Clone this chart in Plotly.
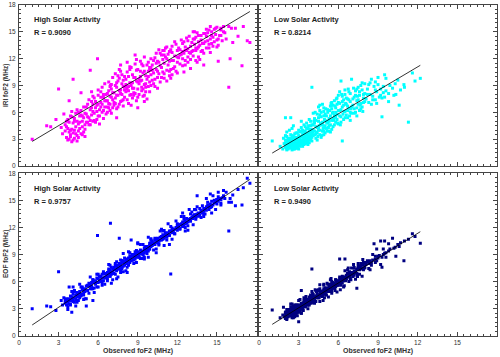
import plotly.graph_objects as go

# ---------------- data ----------------
# High solar activity: observed foF2 and the two model estimates (MHz)
x_high = [
    1.0, 2.1, 2.4, 2.8, 3.0, 3.2, 3.3, 3.4,
    3.5, 3.5, 3.6, 3.6, 3.7, 3.7, 3.8, 3.8, 3.9, 3.9, 4.0, 4.0, 4.0, 4.1, 4.1, 4.2, 4.2, 4.3, 4.3, 4.4, 4.4, 4.5, 4.5, 4.6, 4.6, 4.7, 4.7, 4.8, 4.8, 4.9, 4.9, 5.0, 5.0, 5.0,
    5.1, 5.2, 5.2, 5.3, 5.4, 5.4, 5.5, 5.5, 5.6, 5.7, 5.7, 5.8, 5.8, 5.9, 6.0, 6.0, 6.1, 6.1, 6.2, 6.2, 6.3, 6.3, 6.4, 6.4, 6.5, 6.5, 5.1, 5.95,
    6.6, 6.6, 6.7, 6.7, 6.8, 6.8, 6.9, 6.9, 7.0, 7.0, 7.1, 7.1, 7.2, 7.2, 7.3, 7.3, 7.4, 7.4, 7.5, 7.5, 7.6, 7.6, 7.7, 7.7, 7.8, 7.8, 7.9, 7.9, 8.0, 8.0, 8.0, 6.93, 7.4, 7.7,
    8.1, 8.1, 8.2, 8.2, 8.3, 8.3, 8.4, 8.4, 8.5, 8.5, 8.6, 8.6, 8.7, 8.7, 8.8, 8.8, 8.9, 8.9, 9.0, 9.0, 9.1, 9.1, 9.2, 9.2, 9.3, 9.3, 9.4, 9.4, 9.5, 9.5, 9.6, 9.6, 9.7, 9.7, 9.8, 9.8, 9.9, 9.9, 10.0, 10.0, 8.5, 9.0, 9.5, 8.2,
    10.1, 10.1, 10.2, 10.3, 10.3, 10.4, 10.5, 10.5, 10.6, 10.7, 10.7, 10.8, 10.9, 10.9, 11.0, 11.0, 11.1, 11.2, 11.2, 11.3, 11.4, 11.4, 11.5, 11.6, 11.6, 11.7, 11.8, 11.8, 11.9, 12.0, 12.0, 11.5, 10.5, 11.0,
    12.1, 12.2, 12.2, 12.3, 12.4, 12.4, 12.5, 12.6, 12.6, 12.7, 12.8, 12.8, 12.9, 13.0, 13.0, 13.1, 13.2, 13.2, 13.3, 13.4, 13.4, 13.5, 13.6, 13.6, 13.7, 13.8, 13.8, 13.9, 14.0, 14.0, 12.5, 13.0, 13.5, 12.0, 14.0, 13.3,
    14.1, 14.2, 14.2, 14.3, 14.4, 14.4, 14.5, 14.6, 14.6, 14.7, 14.8, 14.8, 14.9, 15.0, 15.0, 15.1, 15.2, 15.3, 15.4, 15.5, 15.6, 14.5, 15.1, 15.3,
    15.7, 15.9, 15.9, 16.1, 16.2, 16.4, 16.6, 16.9, 17.0, 17.3, 17.5, 16.0,
    4.1, 5.4, 4.7, 5.6, 7.6, 3.8,
    3.6, 3.7, 3.8, 3.9, 4.0, 4.1, 4.2, 4.3, 4.4, 4.5, 4.6, 4.7, 4.8, 4.9, 5.0, 3.9, 4.2, 4.5, 4.8, 4.4,
    5.1, 5.2, 5.3, 5.4, 5.5, 5.6, 5.7, 5.8, 5.9, 6.0, 6.1, 6.2, 6.3, 6.4, 6.5, 5.3, 5.6, 5.9, 6.2, 6.4, 5.5, 6.0,
    6.6, 6.7, 6.8, 6.9, 7.0, 7.1, 7.2, 7.3, 7.4, 7.5, 7.6, 7.7, 7.8, 7.9, 8.0, 6.7, 6.9, 7.1, 7.3, 7.5, 7.7, 7.9, 7.0, 7.4, 7.8, 6.8,
    8.1, 8.2, 8.3, 8.4, 8.5, 8.6, 8.7, 8.8, 8.9, 9.0, 9.1, 9.2, 9.3, 9.4, 9.5, 9.6, 9.7, 9.8, 9.9, 10.0, 8.3, 8.6, 8.9, 9.2, 9.5, 9.8, 8.4, 8.7, 9.0, 9.3, 9.6, 9.9, 8.2, 8.8, 9.4, 10.0,
    10.1, 10.2, 10.3, 10.4, 10.5, 10.6, 10.7, 10.8, 10.9, 11.0, 11.1, 11.2, 11.3, 11.4, 11.5, 11.6, 11.7, 11.8, 11.9, 12.0, 10.4, 10.8, 11.2, 11.6, 10.2, 10.6, 11.0, 11.4,
    12.1, 12.2, 12.3, 12.4, 12.5, 12.6, 12.7, 12.8, 12.9, 13.0, 13.1, 13.2, 13.3, 13.4, 13.5, 13.6, 13.7, 13.8, 13.9, 14.0, 12.4, 12.8, 13.2, 13.6, 12.6, 13.4,
    14.1, 14.3, 14.5, 14.7, 14.9, 15.1, 15.3, 15.5, 14.2, 14.6, 15.0, 14.4,
]
iri_high = [
    3.0, 4.5, 4.4, 5.2, 8.6, 4.3, 3.6, 5.8,
    3.9, 4.6, 3.2, 5.0, 4.2, 2.9, 3.8, 4.9, 3.5, 5.6, 4.1, 2.7, 6.1, 3.7, 4.8, 5.3, 3.1, 4.4, 5.9, 3.4, 5.0, 4.7, 3.9, 5.6, 4.2, 3.6, 6.2, 5.0, 4.4, 5.4, 3.8, 4.6, 5.9, 3.3,
    5.8, 4.9, 6.9, 5.4, 6.3, 4.6, 5.7, 7.2, 6.1, 5.1, 7.6, 6.5, 4.9, 6.8, 5.6, 7.9, 6.3, 4.7, 7.1, 8.3, 6.0, 6.9, 5.3, 7.7, 6.6, 9.2, 4.9, 12.0,
    7.3, 5.8, 8.1, 6.6, 7.0, 9.4, 6.2, 7.8, 8.6, 5.9, 7.4, 9.9, 6.8, 8.2, 7.6, 10.3, 6.4, 8.8, 7.9, 9.5, 6.9, 8.4, 7.2, 10.6, 8.0, 9.2, 6.7, 8.9, 7.7, 10.0, 8.5, 9.0, 5.4, 11.3,
    8.3, 9.7, 7.4, 10.5, 8.9, 7.0, 9.3, 11.1, 8.0, 9.0, 10.2, 7.6, 8.7, 9.9, 8.1, 11.4, 9.5, 7.3, 8.6, 10.8, 9.2, 8.0, 10.0, 11.7, 8.4, 9.6, 7.8, 10.4, 9.1, 12.2, 8.8, 10.1, 9.7, 7.5, 10.6, 8.9, 11.0, 9.4, 10.2, 12.0, 6.8, 6.5, 7.2, 11.6,
    9.6, 11.3, 10.4, 8.9, 12.1, 10.8, 9.9, 11.7, 10.3, 12.6, 9.4, 11.0, 10.5, 12.9, 9.8, 11.5, 13.2, 10.7, 12.0, 11.3, 10.1, 12.8, 9.8, 11.8, 13.4, 10.9, 12.3, 11.1, 13.6, 11.6, 10.4, 13.0, 8.7, 12.4,
    12.1, 11.4, 13.0, 12.5, 11.2, 13.7, 12.6, 11.8, 13.3, 12.9, 11.6, 14.0, 12.7, 13.4, 11.9, 12.8, 14.2, 12.3, 13.6, 12.9, 14.4, 13.1, 12.2, 14.6, 13.5, 12.8, 14.1, 13.7, 12.6, 14.8, 10.5, 10.9, 11.6, 12.2, 11.3, 15.0,
    13.9, 14.5, 13.2, 14.9, 13.6, 15.2, 14.2, 13.7, 15.0, 14.4, 13.9, 15.3, 14.7, 14.1, 15.5, 11.7, 14.6, 15.2, 14.0, 15.6, 14.9, 12.7, 13.5, 15.4,
    14.2, 15.6, 8.8, 15.4, 13.8, 15.4, 14.5, 11.2, 15.6, 14.0, 13.8, 12.0,
    9.7, 10.7, 8.2, 5.0, 10.8, 7.3,
    4.4, 5.2, 3.0, 4.0, 5.5, 2.9, 4.0, 3.6, 6.3, 3.2, 4.9, 5.7, 3.5, 6.6, 4.1, 3.3, 5.0, 6.0, 5.6, 2.8,
    6.6, 5.5, 7.4, 5.1, 6.5, 7.8, 5.9, 7.2, 6.1, 8.5, 5.6, 6.6, 8.8, 6.2, 7.3, 4.6, 6.9, 5.2, 7.7, 8.0, 8.3, 6.9,
    8.0, 7.3, 8.4, 6.9, 9.1, 8.2, 7.1, 9.0, 7.9, 6.6, 9.8, 8.5, 7.3, 9.6, 8.8, 6.0, 8.9, 6.5, 7.0, 10.1, 8.1, 7.4, 7.7, 9.3, 10.2, 6.5,
    9.1, 8.6, 10.0, 7.9, 11.0, 9.3, 8.2, 9.9, 10.7, 7.7, 9.7, 10.6, 8.8, 11.2, 7.9, 9.2, 11.3, 10.0, 8.3, 9.0, 8.4, 8.7, 11.9, 9.5, 10.6, 11.6, 10.8, 7.9, 9.4, 11.4, 8.3, 10.7, 8.9, 12.4, 8.6, 11.0,
    10.7, 11.8, 9.7, 11.5, 10.6, 13.0, 11.2, 9.9, 11.9, 10.3, 12.2, 9.5, 12.5, 11.7, 10.8, 12.7, 11.8, 13.9, 10.6, 12.9, 12.6, 12.4, 13.3, 10.2, 9.2, 11.6, 12.9, 10.6,
    13.2, 12.4, 14.1, 12.0, 13.9, 12.9, 14.3, 13.1, 14.5, 12.6, 13.8, 12.9, 14.2, 13.2, 14.9, 13.3, 11.9, 14.6, 12.9, 13.7, 12.8, 12.2, 15.0, 13.9, 11.3, 11.8,
    14.8, 14.0, 15.6, 13.4, 15.4, 14.2, 14.6, 15.0, 15.3, 14.6, 13.3, 13.2,
]
eof_high = [
    3.0, 3.3, 3.2, 2.8, 7.1, 3.9, 3.4, 4.2,
    3.6, 3.9, 3.4, 3.8, 3.7, 3.2, 4.1, 3.5, 3.9, 4.4, 4.0, 2.6, 4.3, 3.8, 4.6, 4.2, 3.7, 4.5, 4.0, 4.3, 4.8, 4.4, 4.7, 4.2, 4.9, 4.5, 5.4, 4.6, 5.1, 4.8, 4.5, 5.2, 4.9, 4.1,
    5.5, 5.0, 5.6, 5.8, 5.2, 5.7, 5.9, 5.4, 6.2, 5.3, 5.9, 6.1, 5.7, 6.4, 5.9, 6.3, 6.0, 6.6, 6.2, 6.5, 5.9, 6.8, 6.4, 6.1, 6.9, 6.5, 3.3, 11.1,
    6.8, 6.4, 7.0, 6.6, 7.2, 6.9, 6.6, 7.3, 7.1, 6.8, 7.4, 7.0, 7.6, 6.9, 7.3, 7.8, 7.2, 7.6, 7.8, 7.4, 7.5, 8.0, 7.9, 7.3, 8.1, 7.6, 7.7, 8.3, 8.0, 7.8, 8.6, 12.45, 6.3, 8.4,
    8.0, 8.4, 8.1, 8.5, 8.2, 8.6, 8.5, 8.1, 8.7, 8.3, 8.4, 8.9, 8.6, 9.0, 8.8, 8.5, 9.1, 8.7, 8.9, 9.3, 9.0, 8.7, 9.2, 9.5, 9.1, 9.4, 9.3, 9.0, 9.6, 9.2, 9.4, 9.8, 9.5, 9.9, 9.7, 9.4, 10.0, 9.6, 9.9, 10.3, 10.6, 10.2, 8.7, 7.6,
    10.2, 10.0, 10.3, 10.6, 10.1, 10.5, 10.8, 10.3, 10.5, 10.9, 10.6, 11.0, 10.7, 11.2, 11.0, 10.8, 11.3, 11.1, 10.9, 11.4, 11.2, 11.6, 6.85, 11.4, 11.7, 11.5, 11.8, 11.3, 12.0, 11.7, 12.2, 11.6, 10.7, 11.1,
    12.0, 12.3, 11.9, 12.4, 12.1, 12.6, 12.3, 12.7, 12.4, 12.5, 12.9, 12.6, 12.8, 13.0, 12.7, 13.1, 13.0, 13.3, 13.2, 13.4, 13.1, 13.5, 13.3, 13.6, 13.4, 13.7, 13.9, 13.6, 13.8, 14.1, 12.9, 13.5, 15.5, 12.4, 13.5, 14.0,
    14.0, 14.3, 13.9, 14.5, 14.2, 14.4, 14.6, 14.3, 14.9, 14.5, 14.7, 15.0, 14.8, 14.6, 15.1, 14.9, 15.2, 14.7, 15.3, 15.5, 15.2, 15.7, 15.9, 14.5,
    15.9, 14.8, 11.6, 14.8, 15.6, 14.4, 16.2, 14.5, 16.4, 17.45, 16.9, 15.2,
    5.4, 5.6, 4.6, 3.9, 10.8, 5.4,
    4.1, 2.9, 4.0, 3.5, 4.9, 3.9, 4.9, 3.3, 4.7, 3.9, 5.7, 4.4, 5.4, 4.0, 5.1, 3.4, 5.0, 4.4, 5.2, 3.7,
    4.1, 5.5, 4.7, 6.5, 5.2, 6.2, 4.8, 5.9, 5.4, 6.8, 6.0, 6.6, 5.6, 6.9, 5.7, 5.5, 5.2, 6.8, 6.0, 7.1, 5.5, 5.4,
    6.9, 6.1, 7.9, 6.6, 7.6, 6.2, 7.3, 6.8, 8.2, 7.4, 8.0, 7.0, 8.3, 7.1, 8.2, 6.3, 7.8, 6.9, 8.0, 6.5, 7.7, 9.1, 5.8, 7.75, 7.45, 7.4,
    7.2, 8.3, 7.8, 9.2, 8.4, 9.0, 8.0, 9.3, 8.1, 9.2, 8.7, 10.1, 9.1, 10.1, 8.5, 9.9, 9.1, 10.9, 9.6, 10.6, 9.3, 8.45, 9.45, 8.55, 9.75, 8.7, 8.85, 8.4, 10.3, 8.55, 9.6, 10.25, 7.0, 8.95, 8.95, 10.75,
    10.5, 9.5, 10.8, 9.6, 10.7, 10.2, 11.6, 10.6, 11.6, 10.0, 11.4, 10.6, 12.4, 11.1, 12.1, 10.7, 11.8, 11.3, 12.7, 11.9, 9.2, 11.8, 11.05, 11.95, 10.2, 10.05, 11.65, 10.1,
    12.3, 11.8, 13.2, 12.2, 13.2, 11.6, 13.0, 12.2, 14.0, 12.7, 13.7, 12.3, 13.4, 12.9, 14.3, 13.5, 14.1, 13.1, 14.4, 13.2, 13.6, 11.7, 13.2, 13.25, 12.0, 13.95,
    13.5, 14.8, 14.2, 15.5, 14.0, 15.4, 15.1, 16.1, 15.2, 13.6, 15.1, 14.0,
]

# Low solar activity
x_low = [
    1.0, 1.6, 1.8, 1.85, 1.9,
    2.0, 2.0, 2.0, 2.1, 2.1, 2.1, 2.2, 2.2, 2.2, 2.3, 2.3, 2.3, 2.4, 2.4, 2.4, 2.5, 2.5, 2.5, 2.5, 2.6, 2.6, 2.6, 2.7, 2.7, 2.7, 2.7, 2.8, 2.8, 2.8, 2.9, 2.9, 2.9, 2.9, 3.0, 3.0, 3.0, 3.0, 2.0, 2.4, 2.1, 2.6, 2.8, 2.3, 2.5, 2.7, 2.9, 3.0, 2.2, 2.6, 2.4,
    3.1, 3.1, 3.1, 3.2, 3.2, 3.2, 3.3, 3.3, 3.3, 3.4, 3.4, 3.4, 3.5, 3.5, 3.5, 3.6, 3.6, 3.6, 3.7, 3.7, 3.7, 3.8, 3.8, 3.8, 3.9, 3.9, 3.9, 4.0, 4.0, 4.0, 3.2, 3.2, 3.5, 3.3, 3.7, 3.9, 3.4, 4.0,
    4.1, 4.1, 4.2, 4.2, 4.3, 4.3, 4.4, 4.4, 4.5, 4.5, 4.6, 4.6, 4.7, 4.7, 4.8, 4.8, 4.9, 4.9, 5.0, 5.0, 4.2, 4.4, 4.6, 4.8, 5.0, 4.3, 4.5, 4.7, 4.9, 4.1, 4.5, 4.9,
    5.1, 5.1, 5.2, 5.2, 5.3, 5.3, 5.4, 5.4, 5.5, 5.5, 5.6, 5.6, 5.7, 5.7, 5.8, 5.8, 5.9, 5.9, 6.0, 6.0, 5.2, 5.4, 5.6, 5.8, 6.0, 5.3, 5.5, 5.7, 5.9, 5.5,
    6.1, 6.1, 6.2, 6.2, 6.3, 6.3, 6.4, 6.4, 6.5, 6.5, 6.6, 6.6, 6.7, 6.7, 6.8, 6.8, 6.9, 6.9, 7.0, 7.0, 6.3, 6.5, 6.2, 6.1, 6.7, 6.9,
    7.1, 7.2, 7.2, 7.3, 7.4, 7.4, 7.5, 7.6, 7.6, 7.7, 7.8, 7.8, 7.9, 8.0, 8.0, 7.3, 7.5, 7.7, 7.9, 7.4,
    8.1, 8.2, 8.3, 8.4, 8.5, 8.6, 8.7, 8.8, 8.9, 9.0, 9.1, 9.2, 9.3, 9.4, 9.5, 8.5, 9.3, 8.8,
    9.6, 9.8, 9.9, 10.1, 10.3, 10.35, 10.5, 10.6, 10.7, 10.96, 11.0, 11.3, 11.6, 11.8, 12.2, 10.2,
    2.0, 2.1, 2.2, 2.3, 2.4, 2.5, 2.6, 2.7, 2.8, 2.9, 3.0, 2.1, 2.3, 2.5, 2.7, 2.9, 2.2, 2.4, 2.6, 2.8, 3.0, 2.0, 2.5, 2.9, 2.3, 2.7, 2.1, 2.6, 2.8, 2.4,
    3.1, 3.2, 3.3, 3.4, 3.5, 3.6, 3.7, 3.8, 3.9, 4.0, 3.1, 3.3, 3.5, 3.7, 3.9, 3.2, 3.4, 3.6, 3.8, 4.0, 3.15, 3.45, 3.75, 3.35, 3.65, 3.95, 3.55, 3.85,
    4.1, 4.2, 4.3, 4.4, 4.5, 4.6, 4.7, 4.8, 4.9, 5.0, 4.15, 4.35, 4.55, 4.75, 4.95, 4.25, 4.45, 4.65, 4.85, 4.05, 4.6, 4.9,
    5.1, 5.2, 5.3, 5.4, 5.5, 5.6, 5.7, 5.8, 5.9, 6.0, 5.15, 5.35, 5.55, 5.75, 5.95, 5.25, 5.45, 5.65, 5.85, 5.05,
    6.1, 6.2, 6.3, 6.4, 6.5, 6.6, 6.7, 6.8, 6.9, 7.0, 6.15, 6.35, 6.55, 6.75, 6.95, 6.25, 6.45, 6.85,
    7.1, 7.2, 7.3, 7.4, 7.5, 7.6, 7.7, 7.8, 7.9, 8.0, 7.15, 7.45, 7.65, 7.85,
    8.2, 8.4, 8.6, 8.8, 9.0, 9.2, 9.4, 9.6, 9.8, 8.3, 8.9, 9.5,
]
iri_low = [
    2.8, 2.2, 1.9, 3.1, 2.5,
    2.1, 2.9, 5.4, 1.8, 2.5, 3.3, 2.2, 2.8, 1.9, 2.6, 3.1, 2.0, 2.4, 5.4, 2.9, 1.8, 2.3, 2.7, 3.4, 2.1, 2.6, 3.0, 2.4, 1.9, 2.8, 3.6, 2.2, 2.6, 3.2, 2.0, 2.5, 2.9, 3.7, 2.3, 2.7, 3.1, 4.0, 2.4, 2.1, 2.0, 2.3, 2.9, 2.7, 2.5, 2.2, 2.4, 1.9, 2.3, 3.3, 2.8,
    2.4, 3.0, 3.8, 2.6, 3.3, 4.3, 2.2, 2.9, 3.6, 2.7, 3.4, 4.6, 2.5, 3.1, 3.9, 2.8, 3.5, 4.8, 3.0, 3.7, 2.4, 3.3, 4.1, 5.2, 2.9, 3.8, 4.5, 3.2, 4.0, 8.8, 5.0, 2.5, 3.4, 3.9, 4.2, 3.5, 2.9, 4.6,
    3.4, 4.6, 3.9, 5.3, 3.1, 4.4, 5.8, 3.7, 4.2, 5.0, 3.5, 6.2, 4.6, 5.5, 3.9, 4.9, 6.5, 4.3, 5.1, 3.7, 4.8, 2.9, 5.7, 6.9, 4.5, 3.6, 4.0, 3.2, 5.6, 5.9, 6.6, 3.5,
    4.2, 5.6, 4.8, 6.3, 3.9, 5.3, 6.7, 4.6, 5.1, 7.1, 4.4, 6.0, 5.4, 7.3, 4.9, 6.5, 5.8, 7.6, 4.7, 6.2, 5.0, 3.8, 6.8, 5.5, 7.9, 4.5, 6.4, 5.7, 6.9, 4.1,
    5.6, 7.0, 6.3, 9.5, 2.8, 6.6, 5.2, 7.4, 6.1, 8.0, 5.7, 6.9, 7.5, 5.4, 6.4, 8.3, 6.0, 7.2, 9.7, 6.6, 7.8, 8.5, 4.9, 8.3, 6.2, 5.1,
    6.8, 7.7, 5.9, 8.4, 6.5, 7.3, 8.8, 6.2, 7.9, 7.0, 8.5, 6.6, 7.6, 8.1, 9.2, 6.0, 7.4, 9.0, 7.1, 5.6,
    7.5, 8.6, 7.1, 8.0, 9.7, 7.8, 8.9, 7.4, 8.3, 9.1, 7.7, 8.6, 5.5, 8.2, 10.2, 6.9, 7.6, 9.4,
    8.4, 7.2, 9.0, 8.7, 9.2, 8.0, 9.6, 6.8, 8.5, 9.1, 8.8, 4.9, 10.4, 9.5, 9.8, 7.9,
    2.6, 2.0, 3.0, 2.3, 3.5, 2.9, 1.9, 3.2, 2.4, 2.1, 3.4, 3.8, 2.8, 2.0, 2.7, 3.0, 2.5, 3.1, 2.2, 3.7, 2.6, 3.4, 4.2, 2.2, 4.0, 2.1, 2.8, 4.5, 2.0, 2.4,
    3.3, 2.8, 4.0, 3.0, 2.7, 4.2, 3.4, 2.6, 3.2, 3.6, 2.2, 2.5, 4.4, 2.8, 5.0, 3.9, 2.4, 3.1, 3.8, 2.8, 2.9, 3.7, 4.5, 3.2, 2.6, 4.1, 3.5, 3.0,
    4.0, 3.5, 5.1, 4.3, 5.4, 4.0, 6.0, 4.6, 3.9, 5.8, 5.0, 3.8, 4.5, 3.4, 5.2, 6.0, 3.3, 4.8, 4.2, 3.8, 6.8, 6.1,
    4.9, 6.0, 5.0, 5.6, 6.8, 5.3, 4.6, 6.0, 5.2, 7.1, 3.9, 6.2, 5.9, 6.7, 4.8, 4.3, 7.0, 5.1, 7.5, 6.4,
    6.2, 5.5, 7.2, 6.8, 5.4, 7.6, 6.7, 7.4, 8.1, 5.9, 4.6, 5.8, 7.0, 8.6, 6.4, 8.0, 6.1, 5.6,
    7.5, 6.4, 7.9, 8.6, 6.9, 8.3, 6.4, 9.3, 8.0, 7.2, 8.7, 7.8, 6.8, 6.1,
    8.0, 9.3, 7.4, 8.5, 9.9, 7.9, 8.9, 9.8, 8.1, 9.1, 7.0, 7.7,
]
eof_low = [
    2.85, 2.0, 2.3, 3.15, 2.1,
    2.2, 2.0, 2.5, 2.3, 2.6, 1.9, 2.4, 2.1, 2.7, 2.5, 2.2, 2.8, 2.6, 2.3, 2.9, 2.4, 2.7, 2.2, 2.6, 2.8, 2.5, 3.0, 2.6, 2.9, 2.4, 2.7, 3.0, 2.5, 2.8, 2.7, 3.1, 2.9, 2.6, 3.0, 2.8, 3.2, 3.0, 2.6, 2.4, 2.2, 3.3, 2.6, 2.9, 3.1, 2.3, 3.4, 1.55, 2.9, 2.0, 3.5,
    3.0, 3.2, 2.8, 3.3, 3.0, 3.5, 3.2, 3.4, 3.1, 3.5, 3.3, 3.7, 3.6, 3.4, 3.8, 3.5, 3.8, 3.6, 3.7, 3.9, 3.4, 3.8, 4.1, 3.6, 4.0, 3.7, 4.2, 3.9, 4.2, 7.4, 5.0, 2.5, 3.2, 3.6, 3.5, 4.3, 3.9, 3.7,
    4.1, 4.0, 4.3, 4.1, 4.4, 4.2, 4.3, 4.6, 4.5, 4.3, 4.7, 4.4, 4.6, 4.9, 4.8, 4.5, 5.0, 4.7, 5.1, 4.8, 3.9, 4.5, 5.2, 4.9, 5.3, 3.8, 4.2, 4.9, 4.6, 4.6, 5.1, 5.6,
    5.0, 5.3, 5.2, 5.0, 5.4, 5.1, 5.3, 5.6, 5.5, 5.2, 5.6, 5.4, 5.5, 5.8, 5.7, 5.4, 5.9, 5.6, 5.8, 6.1, 4.9, 5.7, 5.9, 6.2, 5.6, 5.6, 6.0, 5.3, 5.6, 4.9,
    5.9, 6.3, 6.0, 6.4, 6.2, 5.9, 6.4, 6.1, 6.5, 8.5, 6.3, 6.7, 6.5, 6.9, 6.6, 7.0, 6.8, 6.5, 7.0, 6.8, 6.6, 6.2, 5.7, 8.5, 7.3, 6.3,
    6.9, 7.2, 6.7, 7.1, 7.4, 6.9, 7.5, 7.3, 7.7, 7.4, 7.8, 7.5, 7.9, 7.6, 8.1, 7.0, 7.7, 8.0, 7.3, 5.25,
    7.9, 8.2, 8.0, 8.3, 8.1, 8.4, 10.2, 8.5, 8.3, 8.6, 8.9, 10.5, 8.7, 9.0, 10.5, 7.8, 7.6, 8.8,
    9.2, 9.4, 9.6, 10.8, 9.8, 8.8, 10.1, 9.9, 10.3, 8.3, 10.5, 10.7, 11.3, 11.0, 10.24, 9.7,
    2.6, 1.8, 2.5, 2.2, 3.2, 2.5, 3.2, 2.1, 3.1, 2.6, 3.9, 2.1, 2.8, 2.0, 3.4, 2.95, 2.8, 2.2, 2.9, 2.4, 3.4, 1.9, 3.5, 2.2, 2.5, 3.1, 2.9, 2.3, 3.4, 2.4,
    2.6, 3.6, 3.2, 4.2, 3.2, 3.7, 3.0, 4.3, 3.8, 4.4, 4.0, 2.9, 3.8, 3.4, 4.5, 2.5, 3.5, 4.0, 3.4, 4.9, 3.1, 4.05, 3.5, 2.8, 3.9, 3.6, 4.35, 3.8,
    4.4, 3.6, 5.0, 4.2, 5.0, 3.8, 4.75, 4.35, 5.7, 4.8, 3.7, 4.9, 4.2, 4.9, 4.2, 5.1, 4.4, 4.95, 3.9, 4.65, 5.65, 5.2,
    4.5, 5.7, 5.1, 6.2, 4.7, 5.8, 5.3, 6.2, 4.85, 6.0, 5.8, 4.9, 5.9, 5.0, 5.85, 4.3, 6.35, 5.3, 6.05, 4.55,
    6.5, 5.6, 6.3, 5.4, 7.2, 6.3, 6.9, 6.0, 6.8, 7.5, 5.1, 6.5, 6.1, 7.5, 6.2, 6.2, 5.55, 7.1,
    6.55, 7.55, 6.25, 7.35, 8.0, 6.8, 7.5, 6.6, 8.1, 7.5, 7.9, 6.55, 7.7, 8.45,
    8.3, 7.3, 9.0, 8.1, 8.8, 7.9, 9.6, 8.7, 10.2, 7.45, 9.6, 9.15,
]

panel_titles = ["High Solar Activity", "Low Solar Activity", "High Solar Activity", "Low Solar Activity"]
r_values = ["0.9090", "0.8214", "0.9757", "0.9490"]
fit_slope = [0.88, 0.876, 0.978, 0.917]
fit_intercept = [1.87, 0.57, 0.21, 0.34]
marker_colors = ["#FF00FF", "#00FFFF", "#0000FF", "#000080"]
tick_values = [0, 3, 6, 9, 12, 15, 18]
y_titles = ["IRI foF2 (MHz)", "EOF foF2 (MHz)"]
x_title = "Observed foF2 (MHz)"

# ---------------- figure ----------------
W, H = 500, 357
xs = [x_high, x_low, x_high, x_low]
ys = [iri_high, iri_low, eof_high, eof_low]

x_dom = [[19 / W, 256.5 / W], [259 / W, 497 / W]]
y_dom = [[1 - 166 / H, 1 - 5 / H], [1 - 335.7 / H, 1 - 173.3 / H]]

AX = "#454545"
FONT = "Liberation Sans, Arial, sans-serif"

fig = go.Figure()
for i in range(4):
    sfx = "" if i == 0 else str(i + 1)
    xv, yv = xs[i], ys[i]
    fig.add_trace(go.Scatter(
        x=xv, y=yv, mode="markers",
        marker=dict(symbol="square", size=3, color=marker_colors[i], line=dict(width=0)),
        xaxis="x" + sfx, yaxis="y" + sfx, showlegend=False, hoverinfo="skip",
    ))
    x0, x1 = min(xv), max(xv)
    fig.add_trace(go.Scatter(
        x=[x0, x1],
        y=[fit_intercept[i] + fit_slope[i] * x0, fit_intercept[i] + fit_slope[i] * x1],
        mode="lines", line=dict(color="black", width=0.8),
        xaxis="x" + sfx, yaxis="y" + sfx, showlegend=False, hoverinfo="skip",
    ))

def axis_common():
    return dict(
        range=[0, 18], tickmode="array", tickvals=tick_values,
        ticks="inside", ticklen=4, tickwidth=1, tickcolor=AX,
        showline=True, linecolor=AX, linewidth=1, mirror="ticks",
        showgrid=False, zeroline=False, automargin=False,
        minor=dict(ticks="inside", ticklen=2, tickcolor=AX, dtick=0.5, tick0=0, showgrid=False),
        tickfont=dict(family=FONT, size=6.5, color="#333"),
    )

layout = {}
for i in range(4):
    row, col = divmod(i, 2)
    sfx = "" if i == 0 else str(i + 1)
    xa = axis_common()
    xa.update(domain=x_dom[col], anchor="y" + sfx)
    if row == 0:
        xa["showticklabels"] = False
    else:
        xa["ticktext"] = [str(v) for v in tick_values]
        if col == 0:
            xa["ticktext"][-1] = ""
    ya = axis_common()
    ya.update(domain=y_dom[row], anchor="x" + sfx)
    if col == 1:
        ya["showticklabels"] = False
    else:
        ya["ticktext"] = [str(v) for v in tick_values]
        ya["ticklabelstandoff"] = 1
    layout["xaxis" + sfx] = xa
    layout["yaxis" + sfx] = ya

annotations = []
for i in range(4):
    row, col = divmod(i, 2)
    ax_px = [32, 272][col]
    ay_px = [19, 188][row]
    annotations.append(dict(
        xref="paper", yref="paper", x=ax_px / W, y=1 - ay_px / H,
        xanchor="left", yanchor="middle", showarrow=False,
        text="<b>" + panel_titles[i] + "</b>",
        font=dict(family=FONT, size=7.5, color="#222"),
    ))
    annotations.append(dict(
        xref="paper", yref="paper", x=ax_px / W, y=1 - (ay_px + 13.5) / H,
        xanchor="left", yanchor="middle", showarrow=False,
        text="<b>R = " + r_values[i] + "</b>",
        font=dict(family=FONT, size=7.5, color="#222"),
    ))
for row in range(2):
    cy = (y_dom[row][0] + y_dom[row][1]) / 2
    annotations.append(dict(
        xref="paper", yref="paper", x=5.5 / W, y=cy, textangle=-90,
        xanchor="center", yanchor="middle", showarrow=False,
        text="<b>" + y_titles[row] + "</b>",
        font=dict(family=FONT, size=6.5, color="#333"),
    ))
for col in range(2):
    cx = (x_dom[col][0] + x_dom[col][1]) / 2
    annotations.append(dict(
        xref="paper", yref="paper", x=cx, y=1 - 351 / H,
        xanchor="center", yanchor="middle", showarrow=False,
        text="<b>" + x_title + "</b>",
        font=dict(family=FONT, size=7, color="#333"),
    ))

fig.update_layout(
    width=W, height=H, margin=dict(l=0, r=0, t=0, b=0),
    paper_bgcolor="white", plot_bgcolor="white",
    annotations=annotations, font=dict(family=FONT),
    **layout,
)

fig.write_html("out.html")
